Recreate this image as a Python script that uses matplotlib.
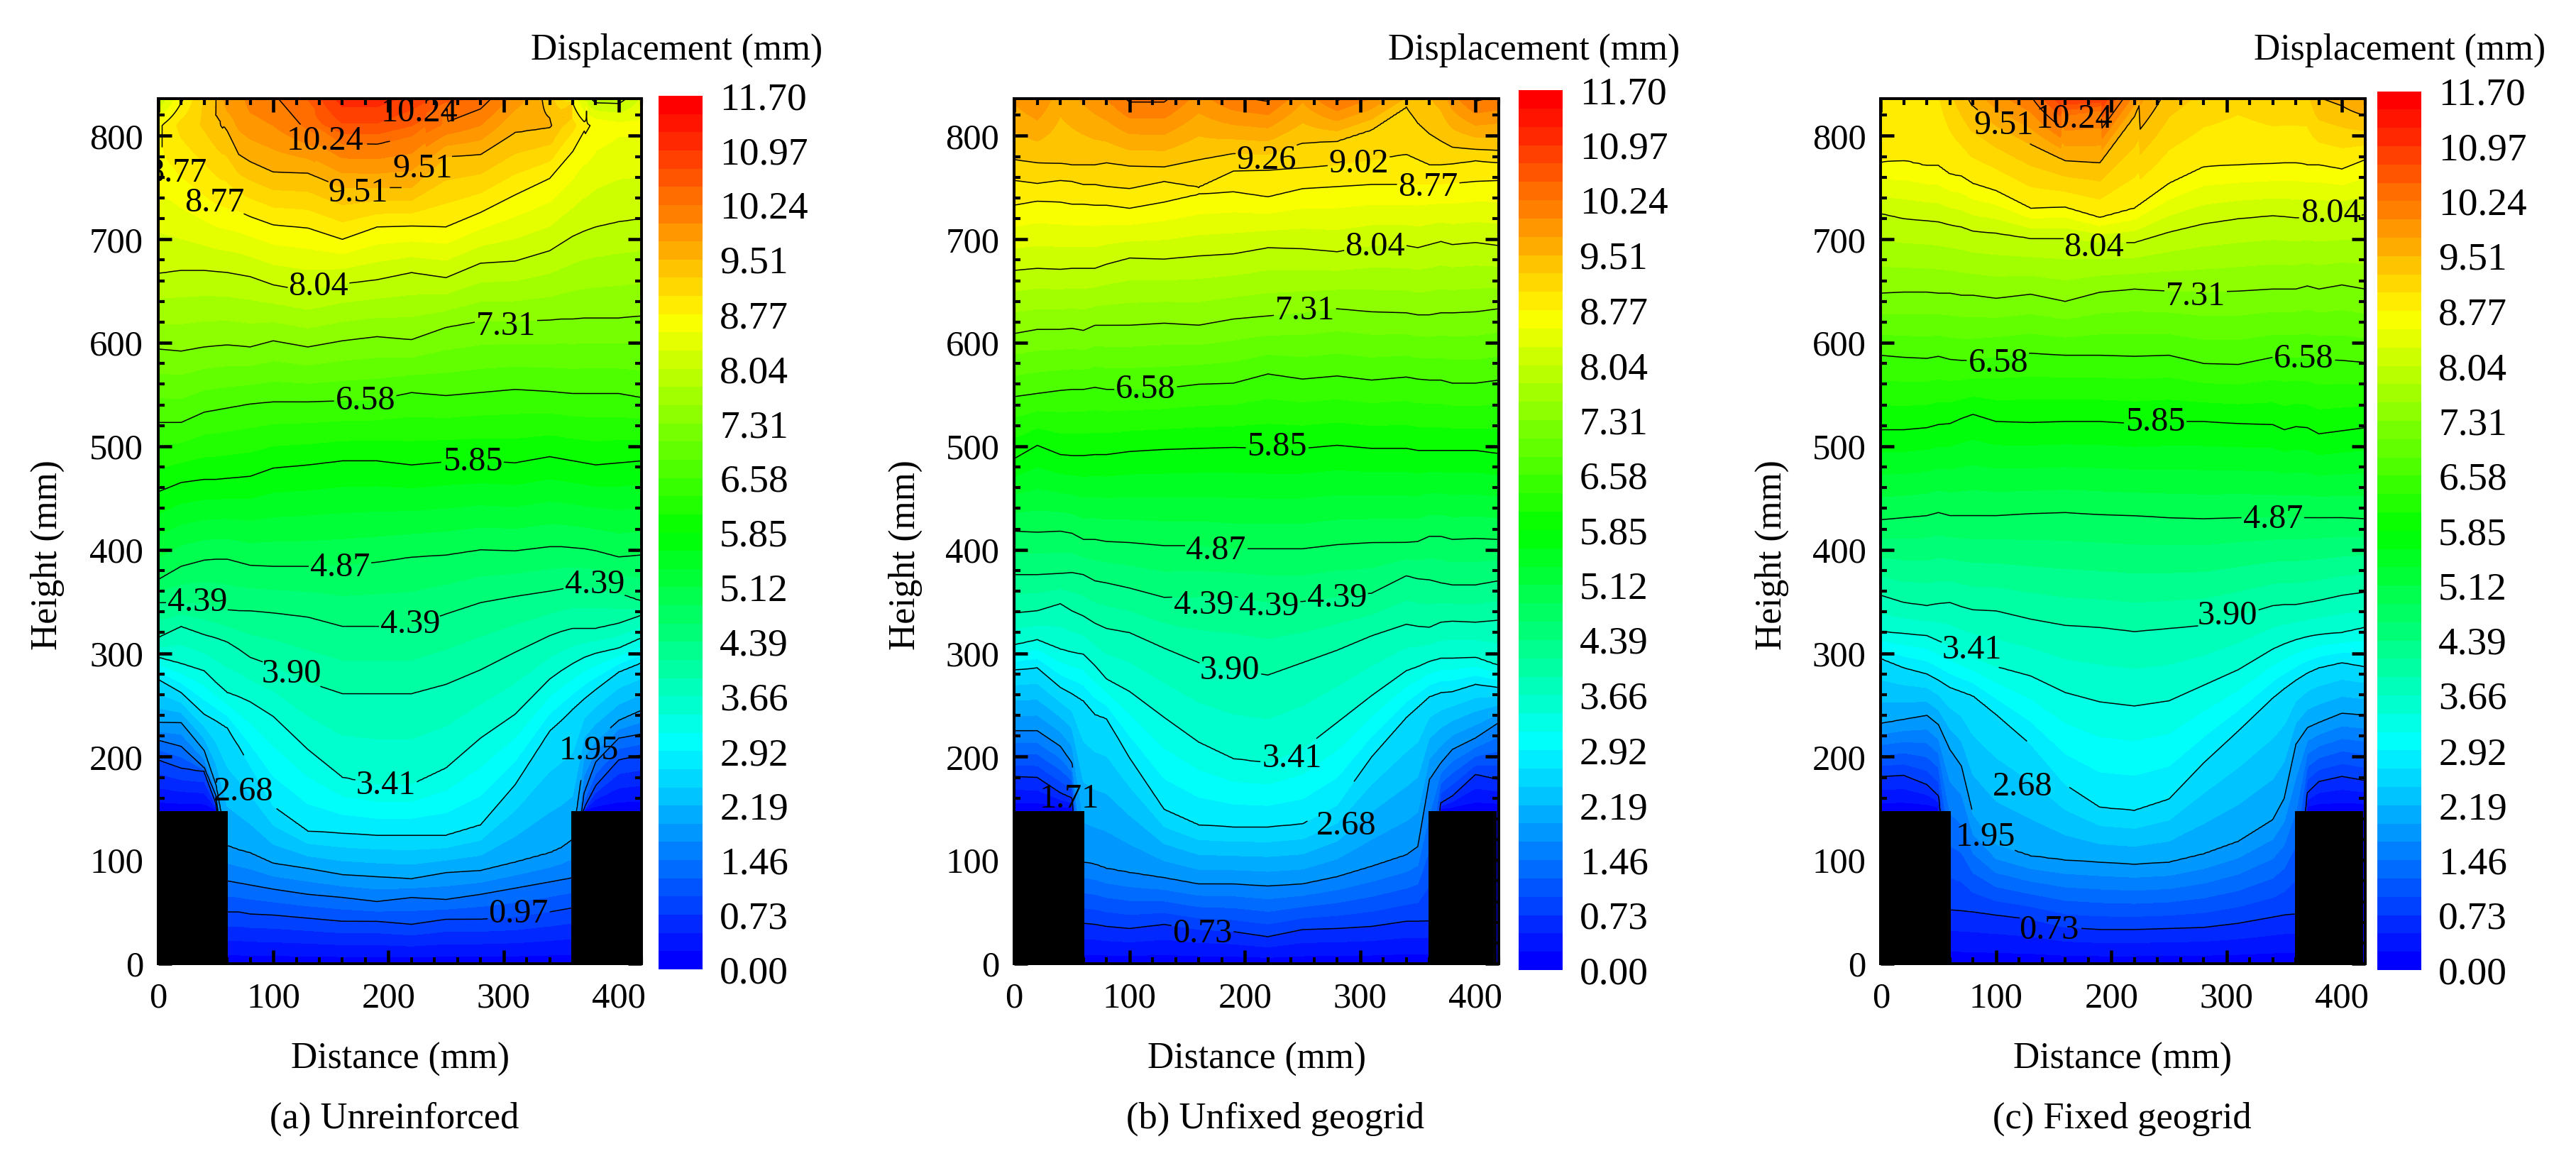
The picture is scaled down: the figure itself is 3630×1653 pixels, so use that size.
import numpy as np
import matplotlib
matplotlib.use('Agg')
import matplotlib.pyplot as plt
from matplotlib.colors import LinearSegmentedColormap, ListedColormap
from matplotlib.patches import Rectangle
from matplotlib.ticker import MultipleLocator

plt.rcParams['font.family'] = ['Liberation Serif', 'DejaVu Serif']

W, H = 3630, 1653

x_cols = [0, 20, 40, 50, 60, 70, 80, 100, 130, 160, 190, 220, 250, 280, 310, 340, 350, 360, 370, 380, 400, 420]

# floor under the field: top of the black blocks, 0 between them
base_h = [148, 148, 148, 148, 0, 0, 0, 0, 0, 0, 0, 0, 0, 0, 0, 0, 0, 0, 148, 148, 148, 148]
base_level = 0.1

# (a) Unreinforced: height (mm) of each contour level at x_cols, 900 = above the top
a_levels = [0.97, 1.46, 1.95, 2.68, 3.41, 3.90, 4.39, 4.87, 5.85, 6.58, 7.31, 8.04, 8.77, 9.51, 10.24]
a_h_097 = [197, 189, 186, 155, 50, 50, 48, 47, 44, 41, 41, 38, 43, 43, 45, 50, 52, 54, 150, 172, 197, 202]
a_h_146 = [216, 210, 189, 163, 80, 78, 76, 72, 67, 64, 60, 64, 62, 67, 73, 79, 81, 83, 165, 195, 218, 222]
a_h_195 = [233, 233, 206, 173, 114, 110, 107, 97, 92, 86, 84, 82, 88, 90, 98, 107, 112, 120, 200, 215, 235, 245]
a_h_268 = [275, 262, 241, 235, 228, 210, 191, 152, 128, 126, 124, 124, 124, 134, 173, 225, 235, 246, 256, 265, 282, 291]
a_h_341 = [296, 290, 283, 272, 262, 258, 253, 239, 207, 180, 173, 173, 189, 218, 241, 275, 283, 290, 296, 300, 305, 315]
a_h_390 = [315, 326, 318, 315, 311, 304, 296, 288, 272, 261, 261, 261, 270, 284, 301, 317, 321, 324, 324, 324, 329, 337]
a_h_439 = [349, 349, 348, 345, 342, 341, 341, 339, 335, 326, 326, 326, 338, 349, 355, 360, 362, 364, 364, 364, 358, 350]
a_h_487 = [371, 384, 390, 391, 391, 388, 385, 384, 384, 385, 388, 393, 395, 400, 399, 403, 403, 402, 401, 399, 393, 395]
a_h_585 = [456, 465, 468, 468, 469, 470, 471, 479, 482, 486, 486, 482, 485, 486, 484, 490, 488, 486, 484, 482, 484, 486]
a_h_658 = [523, 523, 533, 535, 537, 539, 541, 543, 543, 544, 545, 552, 549, 552, 555, 553, 552, 551, 551, 551, 551, 547]
a_h_731 = [594, 592, 596, 597, 598, 597, 596, 602, 596, 602, 606, 603, 615, 621, 621, 622, 623, 623, 624, 624, 624, 626]
a_h_804 = [667, 670, 670, 669, 668, 666, 664, 656, 650, 657, 661, 668, 663, 677, 679, 689, 696, 703, 708, 712, 717, 720]
a_h_877 = [785, 760, 742, 734, 730, 727, 722, 714, 711, 700, 712, 713, 712, 726, 743, 759, 772, 785, 805, 900, 900, 900]
a_h_951 = [900, 900, 900, 820, 805, 782, 775, 765, 764, 750, 750, 750, 780, 782, 803, 808, 815, 830, 900, 900, 900, 900]
a_h_1024 = [900, 900, 900, 900, 900, 900, 900, 900, 815, 793, 792, 800, 825, 900, 900, 900, 900, 900, 900, 900, 900, 900]
a_heights = [a_h_097, a_h_146, a_h_195, a_h_268, a_h_341, a_h_390, a_h_439, a_h_487, a_h_585, a_h_658, a_h_731, a_h_804, a_h_877, a_h_951, a_h_1024]
# displacement along y=810 and along the top edge (the fringe falls off again)
a_v_810 = [8.7, 9.1, 9.3, 9.45, 9.6, 9.8, 9.9, 10.0, 10.3, 10.7, 10.7, 10.5, 10.2, 10.0, 9.55, 9.55, 9.3, 9.1, 8.85, 8.7, 8.6, 8.6]
a_top = [8.0, 8.7, 9.3, 9.5, 9.9, 9.9, 10.1, 10.2, 10.5, 11.1, 11.1, 10.9, 10.6, 10.4, 9.9, 9.4, 9.0, 8.7, 8.2, 7.9, 7.9, 8.3]
a_label_v = [10.24, 10.24, 9.51, 9.51, 8.77, 8.77, 8.04, 7.31, 6.58, 5.85, 4.87, 4.39, 4.39, 4.39, 3.90, 3.41, 2.68, 1.95, 0.97]
a_label_x = [227, 145, 230, 174, 16, 49, 139, 302, 180, 273, 158, 34, 219, 379, 116, 198, 74, 374, 313]
a_label_y = [822, 795, 768, 745, 764, 735, 654, 616, 544, 485, 383, 349, 328, 366, 280, 172, 166, 206, 48]

# (b) Unfixed geogrid
b_levels = [0.73, 1.71, 2.68, 3.41, 3.90, 4.39, 4.87, 5.85, 6.58, 7.31, 8.04, 8.77, 9.02, 9.26]
b_h_073 = [181, 180, 165, 160, 39, 38, 36, 34, 38, 33, 31, 26, 33, 34, 36, 41, 41, 41, 155, 162, 183, 178]
b_h_171 = [225, 225, 210, 194, 98, 96, 92, 88, 83, 77, 77, 75, 77, 84, 94, 105, 113, 178, 194, 207, 218, 233]
b_h_268 = [284, 286, 267, 261, 254, 241, 237, 199, 149, 134, 132, 132, 135, 153, 200, 238, 248, 258, 262, 263, 270, 267]
b_h_341 = [308, 313, 304, 301, 299, 288, 275, 263, 238, 214, 198, 194, 207, 233, 259, 283, 287, 292, 295, 295, 296, 288]
b_h_390 = [339, 341, 348, 341, 336, 329, 324, 320, 305, 291, 284, 279, 291, 303, 317, 328, 326, 325, 330, 331, 330, 332]
b_h_439 = [376, 376, 377, 378, 376, 370, 368, 363, 354, 355, 355, 350, 350, 355, 358, 375, 372, 371, 368, 366, 366, 370]
b_h_487 = [418, 417, 418, 416, 410, 410, 408, 407, 404, 404, 401, 401, 401, 405, 407, 407, 408, 413, 413, 410, 411, 410]
b_h_585 = [488, 501, 492, 491, 491, 492, 492, 495, 497, 498, 499, 498, 498, 501, 498, 498, 496, 496, 496, 496, 496, 493]
b_h_658 = [548, 551, 554, 555, 555, 557, 555, 555, 556, 560, 561, 570, 565, 568, 564, 567, 565, 564, 564, 561, 561, 564]
b_h_731 = [609, 613, 613, 614, 612, 617, 617, 617, 619, 617, 623, 626, 629, 633, 630, 629, 627, 627, 629, 629, 630, 633]
b_h_804 = [670, 672, 671, 672, 672, 672, 676, 682, 681, 684, 686, 692, 691, 688, 694, 694, 692, 695, 698, 695, 697, 694]
b_h_877 = [733, 737, 736, 734, 734, 733, 733, 730, 736, 744, 746, 741, 749, 751, 753, 753, 753, 753, 753, 754, 756, 757]
b_h_902 = [757, 754, 757, 756, 753, 753, 751, 749, 756, 750, 766, 767, 769, 772, 777, 782, 777, 772, 772, 773, 776, 774]
b_h_926 = [777, 774, 773, 772, 772, 772, 774, 771, 770, 777, 783, 782, 793, 795, 806, 828, 812, 802, 795, 789, 787, 786]
b_heights = [b_h_073, b_h_171, b_h_268, b_h_341, b_h_390, b_h_439, b_h_487, b_h_585, b_h_658, b_h_731, b_h_804, b_h_877, b_h_902, b_h_926]
b_top = [9.8, 10.0, 9.6, 9.7, 9.8, 9.9, 10.0, 10.3, 10.3, 9.9, 10.2, 10.3, 9.8, 10.3, 10.0, 9.5, 9.3, 9.5, 9.6, 9.9, 10.3, 10.2]
b_label_v = [9.26, 9.02, 8.77, 8.04, 7.31, 6.58, 5.85, 4.87, 4.39, 4.39, 4.39, 3.90, 3.41, 2.68, 1.71, 0.73]
b_label_x = [219, 299, 359, 313, 252, 114, 228, 175, 164, 221, 280, 187, 241, 288, 48, 163]
b_label_y = [776, 773, 750, 693, 631, 555, 499, 399, 346, 345, 353, 283, 198, 133, 159, 29]

# (c) Fixed geogrid
c_levels = [0.73, 1.95, 2.68, 3.41, 3.90, 4.87, 5.85, 6.58, 7.31, 8.04, 8.77, 9.51, 10.24]
c_h_073 = [181, 182, 173, 162, 52, 51, 50, 47, 43, 35, 33, 33, 34, 35, 39, 45, 47, 48, 165, 176, 181, 177]
c_h_195 = [232, 236, 240, 231, 207, 191, 144, 115, 104, 100, 98, 96, 98, 106, 118, 139, 160, 212, 228, 233, 242, 240]
c_h_268 = [295, 286, 280, 274, 267, 263, 259, 241, 212, 173, 151, 148, 159, 194, 225, 257, 266, 274, 281, 286, 291, 287]
c_h_341 = [321, 319, 317, 312, 307, 301, 296, 287, 278, 262, 253, 249, 254, 269, 284, 304, 309, 313, 316, 318, 320, 325]
c_h_390 = [356, 349, 346, 348, 349, 345, 342, 341, 333, 327, 325, 321, 324, 327, 336, 346, 347, 347, 349, 351, 356, 359]
c_h_487 = [429, 431, 433, 436, 433, 433, 433, 433, 435, 436, 434, 433, 431, 430, 431, 431, 431, 431, 431, 431, 431, 430]
c_h_585 = [516, 516, 518, 521, 522, 527, 531, 524, 523, 524, 524, 522, 524, 524, 522, 521, 516, 519, 518, 512, 515, 518]
c_h_658 = [588, 586, 585, 587, 584, 583, 583, 587, 590, 588, 588, 587, 588, 580, 579, 586, 586, 586, 586, 584, 583, 581]
c_h_731 = [648, 649, 649, 648, 648, 646, 646, 643, 647, 640, 649, 652, 650, 649, 650, 652, 652, 652, 655, 652, 656, 652]
c_h_804 = [725, 720, 718, 717, 714, 712, 708, 706, 701, 701, 697, 697, 707, 715, 720, 723, 722, 721, 721, 721, 721, 724]
c_h_877 = [774, 776, 771, 771, 763, 761, 754, 747, 730, 731, 721, 730, 754, 770, 772, 773, 774, 774, 772, 772, 768, 777]
c_h_951 = [900, 900, 900, 900, 900, 900, 829, 810, 792, 776, 774, 819, 900, 900, 900, 900, 900, 900, 900, 900, 900, 900]
c_h_1024 = [900, 900, 900, 900, 900, 900, 900, 900, 900, 820, 825, 900, 900, 900, 900, 900, 900, 900, 900, 900, 900, 900]
c_heights = [c_h_073, c_h_195, c_h_268, c_h_341, c_h_390, c_h_487, c_h_585, c_h_658, c_h_731, c_h_804, c_h_877, c_h_951, c_h_1024]
c_top = [8.9, 9.0, 9.0, 9.0, 9.2, 9.4, 9.6, 9.9, 10.2, 11.0, 11.0, 9.9, 9.4, 9.2, 9.1, 9.2, 9.2, 9.2, 9.2, 9.5, 9.6, 9.8]
c_label_v = [9.51, 10.24, 8.04, 8.04, 7.31, 6.58, 6.58, 5.85, 4.87, 3.90, 3.41, 2.68, 1.95, 0.73]
c_label_x = [107, 168, 185, 390, 273, 102, 367, 238, 340, 301, 79, 123, 91, 146]
c_label_y = [810, 816, 692, 725, 645, 580, 584, 523, 429, 336, 303, 171, 122, 32]

cbar_labels = ['0.00', '0.73', '1.46', '2.19', '2.92', '3.66', '4.39', '5.12', '5.85', '6.58', '7.31', '8.04', '8.77', '9.51', '10.24', '10.97', '11.70']
titles = ['(a) Unreinforced', '(b) Unfixed geogrid', '(c) Fixed geogrid']

# 48 flat bands from 0 to 11.70
n_bands = 48
band_edges = np.linspace(0, 11.7, n_bands + 1)
rainbow = LinearSegmentedColormap.from_list('rainbow5', ['#0000ff', '#00ffff', '#00ff00', '#ffff00', '#ff0000'])
band_cmap = ListedColormap([rainbow(i / (n_bands - 1)) for i in range(n_bands)])

x_fine = np.arange(0, 419.5, 1.0)
y_fine = np.arange(0, 836.5, 2.0)


def build_field(levels, heights, top, v_810=None):
    all_levels = [base_level] + levels
    all_heights = [base_h] + heights
    z = np.zeros((len(y_fine), len(x_fine)))
    h_fine = [np.interp(x_fine, x_cols, h) for h in all_heights]
    top_fine = np.interp(x_fine, x_cols, top)
    if v_810 is not None:
        v810_fine = np.interp(x_fine, x_cols, v_810)
    for j in range(len(x_fine)):
        hs = []
        vs = []
        for k in range(len(all_levels)):
            if h_fine[k][j] < 830:
                hs.append(h_fine[k][j])
                vs.append(all_levels[k])
        if v_810 is not None:
            hs.append(810.5)
            vs.append(v810_fine[j])
        hs.append(836.5)
        vs.append(top_fine[j])
        order = np.argsort(hs)
        z[:, j] = np.interp(y_fine, np.array(hs)[order], np.array(vs)[order])
    return np.clip(z, 0, 11.69)


def px_axes(fig, left, right, top, bottom):
    return fig.add_axes([left / W, 1 - bottom / H, (right - left) / W, (bottom - top) / H])


def draw_panel(fig, box, cbox, field, line_levels, lab_v, lab_x, lab_y):
    ax = px_axes(fig, *box)
    X, Y = np.meshgrid(x_fine, y_fine)
    cf = ax.contourf(X, Y, field, levels=band_edges, cmap=band_cmap, antialiased=False)
    # one contour set per level, clabel cannot pick a subset of levels with manual places
    for level in line_levels:
        cs = ax.contour(X, Y, field, levels=[level], colors='k', linewidths=0.36)
        here = [(lx, ly) for v, lx, ly in zip(lab_v, lab_x, lab_y) if v == level]
        if not here:
            continue
        cs.clabel(manual=here, fmt='%.2f', fontsize=11.6, inline=True, inline_spacing=2, colors='k')
        for t, (lx, ly) in zip(cs.labelTexts, here):
            t.set_rotation(0)
            t.set_position((lx, ly))
            t.set_clip_on(True)
            t.set_clip_box(ax.bbox)
    # black blocks at both lower corners
    ax.add_patch(Rectangle((0, 0), 60.5, 147.5, facecolor='k', edgecolor='none', zorder=10))
    ax.add_patch(Rectangle((359, 0), 59.6, 147.5, facecolor='k', edgecolor='none', zorder=10))
    ax.set_xlim(0, 420)
    ax.set_ylim(0, 836)
    ax.xaxis.set_major_locator(MultipleLocator(100))
    ax.xaxis.set_minor_locator(MultipleLocator(20))
    ax.yaxis.set_major_locator(MultipleLocator(100))
    ax.yaxis.set_minor_locator(MultipleLocator(20))
    ax.tick_params(which='major', direction='in', length=4.46, width=1.1, top=True, right=True, labelsize=12.2)
    ax.tick_params(which='minor', direction='in', length=2.2, width=1.0, top=True, right=True)
    ax.tick_params(axis='x', which='major', pad=6.2)
    ax.tick_params(axis='y', which='major', pad=5)
    ax.set_axisbelow(False)
    for s in ax.spines.values():
        s.set_linewidth(0.96)
        s.set_zorder(20)

    cax = px_axes(fig, *cbox)
    cb = fig.colorbar(cf, cax=cax)
    cb.outline.set_visible(False)
    cb.set_ticks([float(s) for s in cbar_labels], labels=cbar_labels)
    cb.minorticks_off()
    cax.tick_params(length=0, pad=5.8, labelsize=13.3)
    return ax


def fig_text(x, y, s, size=12.4, rotation=0):
    fig.text(x / W, 1 - y / H, s, fontsize=size, ha='center', va='center', rotation=rotation)


fig = plt.figure(figsize=(12.1, 5.51), dpi=300, facecolor='w')

z_a = build_field(a_levels, a_heights, a_top, a_v_810)
z_b = build_field(b_levels, b_heights, b_top)
z_c = build_field(c_levels, c_heights, c_top)

draw_panel(fig, (222.8, 904.4, 139, 1358), (928, 990, 135, 1366), z_a, a_levels, a_label_v, a_label_x, a_label_y)
draw_panel(fig, (1429.2, 2111.7, 139, 1358), (2140, 2201.5, 127, 1367), z_b, b_levels + [10.24], b_label_v, b_label_x, b_label_y)
draw_panel(fig, (2650.3, 3332.7, 139, 1358), (3350, 3412, 128.6, 1367), z_c, c_levels, c_label_v, c_label_x, c_label_y)

for x in (954, 2162, 3382):
    fig_text(x, 71, 'Displacement (mm)')
for x in (564, 1771, 2991):
    fig_text(x, 1493, 'Distance (mm)')
for x, t in zip((556, 1797, 2990), titles):
    fig_text(x, 1577, t, size=12.6)
for x in (67, 1276, 2497):
    fig_text(x, 782, 'Height (mm)', rotation=90)

fig.savefig('out.png', dpi=300)
